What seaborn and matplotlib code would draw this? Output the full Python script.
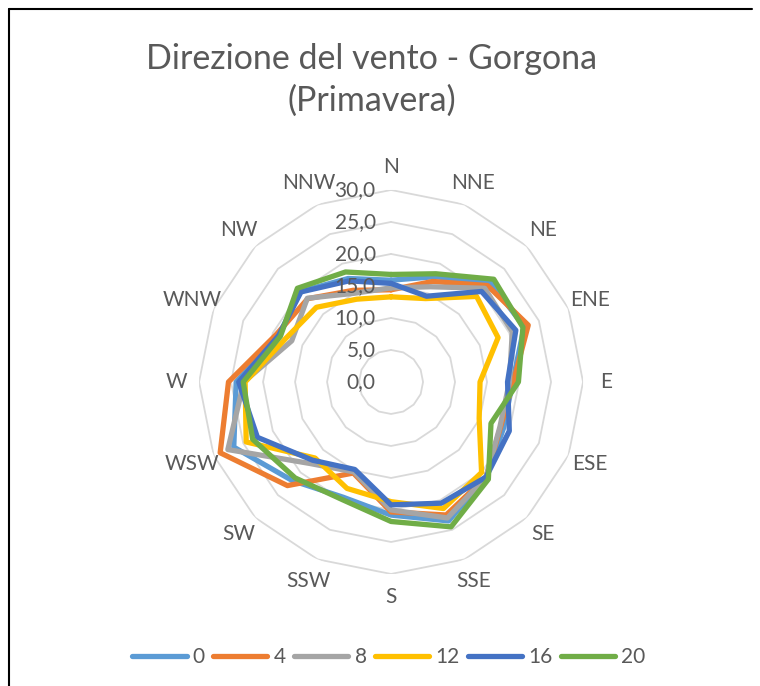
import numpy as np
import pandas as pd
import matplotlib
matplotlib.use('Agg')
import matplotlib.pyplot as plt
import seaborn as sns
from matplotlib.lines import Line2D

# direzioni del vento (senso orario da N)
direzioni = ['N', 'NNE', 'NE', 'ENE', 'E', 'ESE', 'SE', 'SSE',
             'S', 'SSW', 'SW', 'WSW', 'W', 'WNW', 'NW', 'NNW']
ore = ['0', '4', '8', '12', '16', '20']

# valori
ora_0  = [15.9, 17.8, 22.0, 22.5, 19.0, 19.0, 21.0, 23.5, 20.8, 19.5, 21.8, 26.6, 24.2, 19.0, 20.0, 17.5]
ora_4  = [14.4, 17.0, 21.3, 23.2, 19.1, 18.5, 21.0, 22.5, 20.3, 15.4, 22.9, 28.9, 25.4, 19.4, 18.4, 15.5]
ora_8  = [14.7, 16.1, 20.7, 20.5, 18.5, 18.4, 21.0, 23.0, 20.0, 15.2, 18.0, 27.6, 23.0, 16.8, 18.5, 15.0]
ora_12 = [13.3, 14.1, 18.9, 18.1, 13.9, 14.9, 20.0, 21.4, 18.7, 18.0, 16.8, 24.5, 22.8, 17.8, 16.5, 14.0]
ora_16 = [15.4, 14.5, 20.0, 21.1, 18.2, 20.0, 21.0, 20.5, 19.2, 14.8, 17.3, 22.6, 23.8, 19.0, 19.9, 17.1]
ora_20 = [16.8, 18.3, 22.7, 22.3, 19.9, 16.9, 21.5, 24.5, 21.8, 19.9, 21.2, 23.4, 23.1, 18.7, 20.7, 18.6]
serie = [ora_0, ora_4, ora_8, ora_12, ora_16, ora_20]

anelli = [0, 5, 10, 15, 20, 25, 30]
etichette_anelli = ['0,0', '5,0', '10,0', '15,0', '20,0', '25,0', '30,0']

colori = ['#5B9BD5', '#ED7D31', '#A5A5A5', '#FFC000', '#4472C4', '#70AD47']
grigio_testo = '#595959'

sns.set_theme(style='white')
plt.rcParams['font.family'] = ['Lato', 'DejaVu Sans']

angoli = np.linspace(0, 2 * np.pi, len(direzioni), endpoint=False)
angoli_chiusi = np.append(angoli, 2 * np.pi)

righe = []
for ora, valori in zip(ore, serie):
    for a, v in zip(angoli_chiusi, valori + valori[:1]):
        righe.append((a, v, ora))
df = pd.DataFrame(righe, columns=['theta', 'velocita', 'ora'])

fig = plt.figure(figsize=(7.6, 6.86), dpi=100)
ax = fig.add_axes([0.2619, 0.1633, 0.5053, 0.5598], projection='polar')
ax.set_theta_zero_location('N')
ax.set_theta_direction(-1)

# griglia poligonale stile Excel
for r in anelli[1:]:
    ax.plot(angoli_chiusi, [r] * len(angoli_chiusi), color='#D9D9D9', lw=1.3, zorder=0)

sns.lineplot(data=df, x='theta', y='velocita', hue='ora', hue_order=ore,
             palette=colori, sort=False, estimator=None, linewidth=3.8,
             solid_joinstyle='round', solid_capstyle='round', ax=ax)

ax.set_ylim(0, 30)
ax.grid(False)
ax.set_xticks([])
ax.set_yticks([])
ax.spines['polar'].set_visible(False)
ax.set_xlabel('')
ax.set_ylabel('')

for r, lab in zip(anelli, etichette_anelli):
    ax.annotate(lab, xy=(0, r), xytext=(-11, 0), textcoords='offset points',
                ha='right', va='center', fontsize=15, color=grigio_testo)

for a, d in zip(angoli, direzioni):
    ax.text(a, 33.6, d, ha='center', va='center', fontsize=15,
            color=grigio_testo, clip_on=False)

fig.suptitle('Direzione del vento - Gorgona\n(Primavera)', x=0.489, y=1 - 80 / 686,
             va='center', fontsize=24.5, color=grigio_testo, linespacing=1.4)

handles, labels = ax.get_legend_handles_labels()
ax.get_legend().remove()
leg = fig.legend(handles, labels, loc='center', bbox_to_anchor=(389 / 760, 1 - 657 / 686),
                 ncol=6, frameon=False, fontsize=15, handlelength=2.6,
                 handletextpad=0.3, columnspacing=0.4, labelcolor=grigio_testo)
for l in leg.get_lines():
    l.set_linewidth(3.8)
    l.set_solid_capstyle('round')

# cornice
fig.add_artist(Line2D([9 / 760, 9 / 760], [0, 1 - 9 / 686], color='black', lw=1.5))
fig.add_artist(Line2D([9 / 760, 752 / 760], [1 - 9 / 686, 1 - 9 / 686], color='black', lw=1.5))

fig.savefig('out.png', dpi=100)
